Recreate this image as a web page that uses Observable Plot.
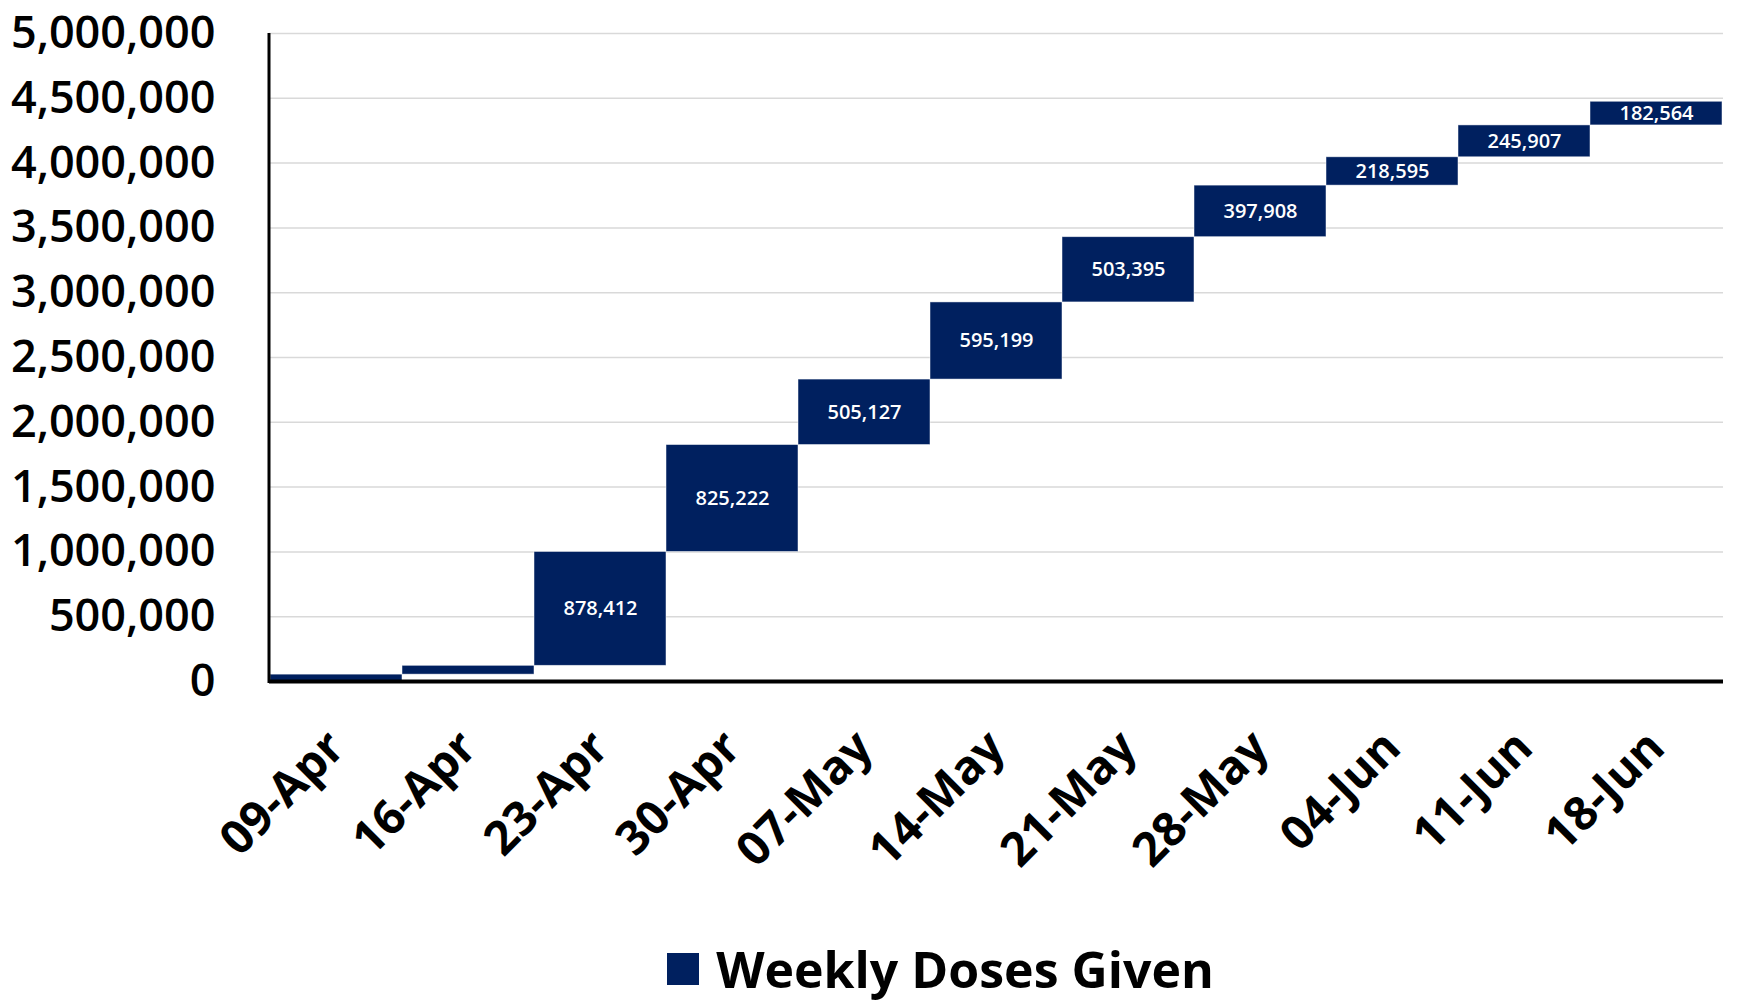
<!DOCTYPE html>
<html>
<head>
<meta charset="utf-8">
<script src="https://cdn.jsdelivr.net/npm/d3@7"></script>
<script src="https://cdn.jsdelivr.net/npm/@observablehq/plot@0.6"></script>
<style>
  html, body { margin: 0; padding: 0; background: #fff; }
  #chart svg { display: block; }
  #legend { height: 83px; display: flex; justify-content: center; align-items: center; padding-left: 132px; padding-top: 14px; box-sizing: border-box; font-family: "Open Sans", sans-serif; font-weight: 700; font-size: 50px; color: #000; }
  #legend .sw { width: 32px; height: 32px; background: #00205f; margin-right: 17px; }
</style>
</head>
<body>
<div id="chart"></div>
<div id="legend"><div class="sw"></div><span>Weekly Doses Given</span></div>
<script>
const weeks = ["09-Apr","16-Apr","23-Apr","30-Apr","07-May","14-May","21-May","28-May","04-Jun","11-Jun","18-Jun"];
const weeklyDoses = [53000, 68000, 878412, 825222, 505127, 595199, 503395, 397908, 218595, 245907, 182564];
const yTicks = [0, 500000, 1000000, 1500000, 2000000, 2500000, 3000000, 3500000, 4000000, 4500000, 5000000];
const seriesName = "Weekly Doses Given";

let run = 0;
const rows = weeks.map((w, i) => {
  const start = run;
  run += weeklyDoses[i];
  return {week: w, value: weeklyDoses[i], start, end: run};
});

const fmt = d3.format(",");
const font = "'Open Sans', sans-serif";

const leftAxisLine = (index, scales, values, dimensions) => {
  const x = dimensions.marginLeft;
  return d3.create("svg:line")
    .attr("x1", x).attr("x2", x)
    .attr("y1", scales.y(5000000)).attr("y2", scales.y(0) + 2)
    .attr("stroke", "#000").attr("stroke-width", 3)
    .node();
};

const chart = Plot.plot({
  width: 1749,
  height: 920,
  marginTop: 33,
  marginBottom: 239,
  marginLeft: 269,
  marginRight: 26,
  style: {fontFamily: font, background: "#fff"},
  x: {domain: weeks, padding: 0, label: null},
  y: {domain: [0, 5000000], label: null},
  marks: [
    Plot.gridY(yTicks, {stroke: "#d9d9d9", strokeOpacity: 1, strokeWidth: 1.5}),
    Plot.barY(rows, {x: "week", y1: "start", y2: "end", fill: "#00205f", stroke: "#ffffff", strokeWidth: 0.8, strokeOpacity: 0.6, inset: 0}),
    Plot.text(rows.filter(d => d.value > 100000), {
      x: "week", y: d => (d.start + d.end) / 2, text: d => fmt(d.value),
      fill: "white", fontSize: 20, fontWeight: 600, fontFamily: font
    }),
    Plot.axisY({ticks: yTicks, tickFormat: fmt, tickSize: 0, tickPadding: 54, fontSize: 45, fontWeight: 600, fill: "#000", label: null}),
    Plot.axisX({tickRotate: -45, tickSize: 0, tickPadding: 58, fontSize: 47, fontWeight: 700, fill: "#000", label: null}),
    leftAxisLine,
    Plot.ruleY([0], {stroke: "#000", strokeWidth: 4})
  ]
});
document.getElementById("chart").appendChild(chart);
</script>
</body>
</html>
